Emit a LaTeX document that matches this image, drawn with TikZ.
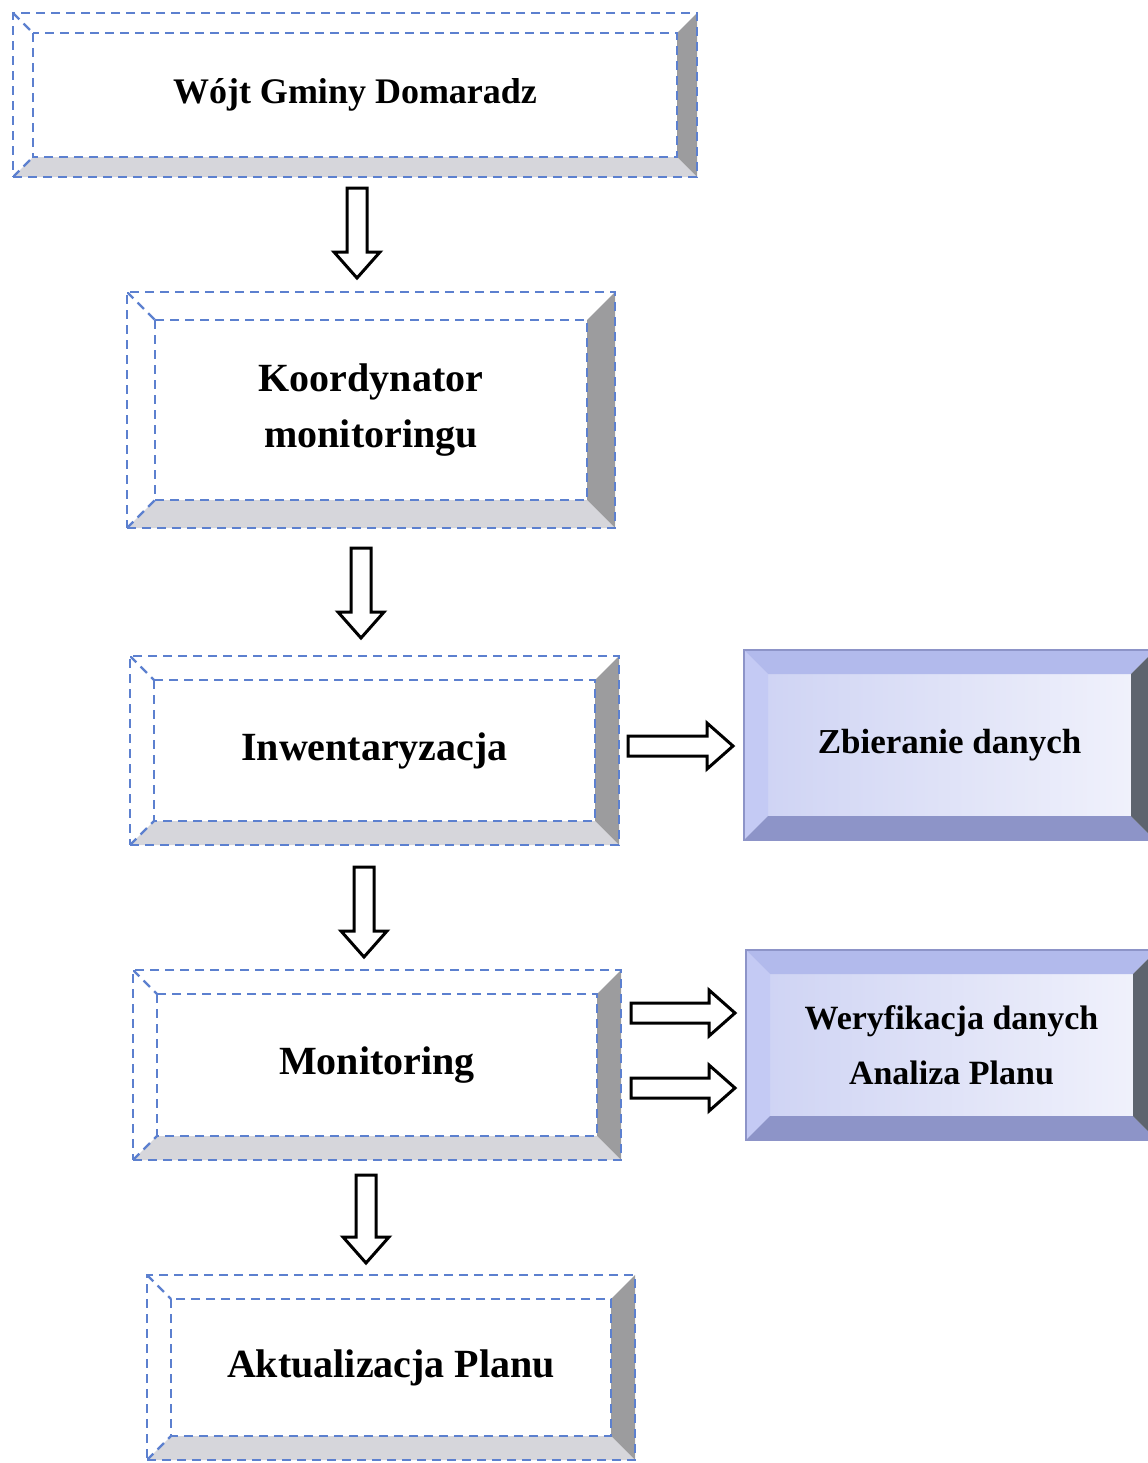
\documentclass[tikz,border=0pt]{standalone}
\usepackage{fontspec}
\setmainfont{Liberation Serif}
\usepackage{xcolor}
\usepackage{tikz}
\usetikzlibrary{calc,positioning}
\definecolor{DashBlue}{HTML}{5C80CF}
\definecolor{FaceGray}{HTML}{9C9C9E}
\definecolor{FaceLight}{HTML}{D6D6DB}
\definecolor{LavTop}{HTML}{B2BAEC}
\definecolor{LavLeft}{HTML}{C4CAF4}
\definecolor{LavBottom}{HTML}{8D94C8}
\definecolor{LavRight}{HTML}{5E646E}
\definecolor{LavMid}{HTML}{F2F3FC}
\definecolor{LavEdge}{HTML}{CDD2F3}

\newcommand{\bevw}{12pt}

\begin{document}
\begin{tikzpicture}[
    bevel size/.store in=\bevw,
    every node/.style={font=\bfseries\fontsize{20}{28}\selectfont},
    dashline/.style={
        draw=DashBlue,
        line width=1.2pt,
        dash pattern=on 4.5pt off 3pt
    },
    plainbox/.style={
        rectangle,
        dashline,
        fill=white,
        inner sep=0pt,
        outer sep=0pt,
        align=center,
        minimum width=244pt,
        path picture={
            \coordinate (pNW) at (path picture bounding box.north west);
            \coordinate (pNE) at (path picture bounding box.north east);
            \coordinate (pSW) at (path picture bounding box.south west);
            \coordinate (pSE) at (path picture bounding box.south east);
            \fill[FaceGray] (pNE) -- (pSE) -- ([shift={(-\bevw,\bevw)}]pSE)
                -- ([shift={(-\bevw,-\bevw)}]pNE) -- cycle;
            \fill[FaceLight] (pSW) -- (pSE) -- ([shift={(-\bevw,\bevw)}]pSE)
                -- ([shift={(\bevw,\bevw)}]pSW) -- cycle;
            \draw[dashline] ([shift={(\bevw,-\bevw)}]pNW) rectangle ([shift={(-\bevw,\bevw)}]pSE);
            \draw[dashline] (pNW) -- ++(\bevw,-\bevw) (pSW) -- ++(\bevw,\bevw);
        }
    },
    lavbox/.style={
        rectangle,
        draw=LavBottom,
        line width=0.6pt,
        left color=LavEdge,
        right color=LavMid,
        inner sep=0pt,
        outer sep=0pt,
        align=center,
        minimum width=205.5pt,
        minimum height=95pt,
        path picture={
            \coordinate (pNW) at (path picture bounding box.north west);
            \coordinate (pNE) at (path picture bounding box.north east);
            \coordinate (pSW) at (path picture bounding box.south west);
            \coordinate (pSE) at (path picture bounding box.south east);
            \fill[LavTop] (pNW) -- (pNE) -- ([shift={(-\bevw,-\bevw)}]pNE)
                -- ([shift={(\bevw,-\bevw)}]pNW) -- cycle;
            \fill[LavLeft] (pNW) -- (pSW) -- ([shift={(\bevw,\bevw)}]pSW)
                -- ([shift={(\bevw,-\bevw)}]pNW) -- cycle;
            \fill[LavBottom] (pSW) -- (pSE) -- ([shift={(-\bevw,\bevw)}]pSE)
                -- ([shift={(\bevw,\bevw)}]pSW) -- cycle;
            \fill[LavRight] (pNE) -- (pSE) -- ([shift={(-\bevw,\bevw)}]pSE)
                -- ([shift={(-\bevw,-\bevw)}]pNE) -- cycle;
        }
    },
    blockarrow/.style={
        draw=black,
        fill=white,
        line width=1.5pt,
        line join=miter,
        to path={
            let \p1=(\tikztostart), \p2=(\tikztotarget),
                \n1={atan2(\y2-\y1,\x2-\x1)} in
            ($(\p1)+(\n1+90:5pt)$)
            -- ($(\p2)+(\n1+180:13pt)+(\n1+90:5pt)$)
            -- ($(\p2)+(\n1+180:13pt)+(\n1+90:11.5pt)$)
            -- (\p2)
            -- ($(\p2)+(\n1+180:13pt)+(\n1-90:11.5pt)$)
            -- ($(\p2)+(\n1+180:13pt)+(\n1-90:5pt)$)
            -- ($(\p1)+(\n1-90:5pt)$)
            -- cycle
        }
    }
]

\useasboundingbox (0,0) rectangle (573.5pt,-731.5pt);

\node[plainbox, bevel size=10pt, minimum width=342pt, minimum height=82pt,
      font=\bfseries\fontsize{18}{24}\selectfont] (wojt) at (177.5pt,-47.5pt)
    {\raisebox{-3pt}{Wójt Gminy Domaradz}};

\node[plainbox, bevel size=14pt, minimum height=118pt,
      below=57.5pt of wojt, xshift=8pt] (koord)
    {\raisebox{-3pt}{Koordynator}\\\raisebox{-3pt}{monitoringu}};

\node[plainbox, minimum width=244.5pt, minimum height=94.5pt,
      below=64pt of koord, xshift=1.75pt] (inwent)
    {Inwentaryzacja};

\node[plainbox, minimum height=95pt,
      below=62.5pt of inwent, xshift=1.25pt] (monit)
    {Monitoring};

\node[plainbox, minimum height=92.5pt,
      below=57.5pt of monit, xshift=7pt] (aktual)
    {Aktualizacja Planu};

\node[lavbox, font=\bfseries\fontsize{17.5}{27}\selectfont,
      right=62.5pt of inwent, yshift=2.75pt] (zbier)
    {Zbieranie danych};

\node[lavbox, font=\bfseries\fontsize{17}{27.5}\selectfont,
      right=62.5pt of monit, yshift=10pt] (weryf)
    {Weryfikacja danych\\Analiza Planu};

\draw[blockarrow] ([xshift=1pt,yshift=-5.5pt]wojt.south) to ([xshift=-7pt,yshift=7pt]koord.north);
\draw[blockarrow] ([xshift=-5pt,yshift=-10pt]koord.south) to ([xshift=-6.75pt,yshift=9pt]inwent.north);
\draw[blockarrow] ([xshift=-5.25pt,yshift=-11pt]inwent.south) to ([xshift=-6.5pt,yshift=6.5pt]monit.north);
\draw[blockarrow] ([xshift=-5.5pt,yshift=-7.5pt]monit.south) to ([xshift=-12.5pt,yshift=6pt]aktual.north);

\draw[blockarrow] ([xshift=4.5pt,yshift=2.25pt]inwent.east) to ([xshift=-5.5pt,yshift=-0.5pt]zbier.west);
\draw[blockarrow] ([xshift=5pt,yshift=26pt]monit.east) to ([xshift=-5.5pt,yshift=16pt]weryf.west);
\draw[blockarrow] ([xshift=5pt,yshift=-11.5pt]monit.east) to ([xshift=-5.5pt,yshift=-21.5pt]weryf.west);

\end{tikzpicture}
\end{document}
